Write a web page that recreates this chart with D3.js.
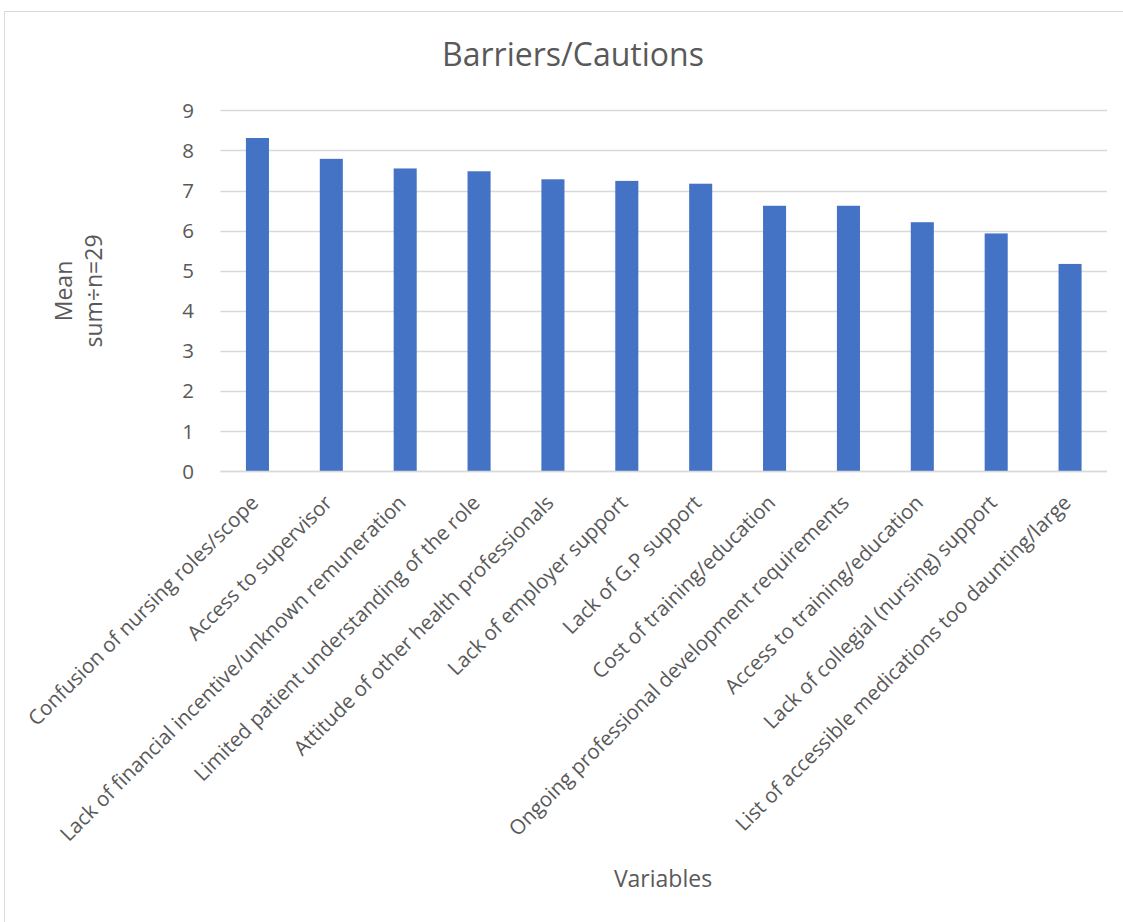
<!DOCTYPE html>
<html><head><meta charset="utf-8">
<script src="https://cdn.jsdelivr.net/npm/d3@7"></script>
<style>html,body{margin:0;padding:0;background:#fff;}svg{display:block;}text{font-family:"Open Sans",sans-serif;fill:#595959;}</style>
</head><body>
<svg id="chart" width="1123" height="922"></svg>
<script>
const categories = [
  "Confusion of nursing roles/scope",
  "Access to supervisor",
  "Lack of financial incentive/unknown remuneration",
  "Limited patient understanding of the role",
  "Attitude of other health professionals",
  "Lack of employer support",
  "Lack of G.P support",
  "Cost of training/education",
  "Ongoing professional development requirements",
  "Access to training/education",
  "Lack of collegial (nursing) support",
  "List of accessible medications too daunting/large"
];
const means = [8.31, 7.79, 7.55, 7.48, 7.28, 7.24, 7.17, 6.62, 6.62, 6.21, 5.93, 5.17];
const yTicks = [0,1,2,3,4,5,6,7,8,9];
const title = "Barriers/Cautions";
const xTitle = "Variables";
const yTitle = ["Mean", "sum÷n=29"];

const svg = d3.select("#chart");
svg.append("rect").attr("x",4.5).attr("y",11.5).attr("width",1140).attr("height",940)
  .attr("fill","none").attr("stroke","#d9d9d9").attr("stroke-width",1);

const plotL = 220.5, plotR = 1107, plotT = 110.3, plotB = 471.3;
const x = d3.scaleBand().domain(categories).range([plotL, plotR]).padding(0);
const y = d3.scaleLinear().domain([0,9]).range([plotB, plotT]);

svg.append("g").selectAll("line").data(yTicks).join("line")
  .attr("x1",plotL).attr("x2",plotR)
  .attr("y1",d=>Math.round(y(d))+0.5).attr("y2",d=>Math.round(y(d))+0.5)
  .attr("stroke","#d9d9d9").attr("stroke-width",1.3);

svg.append("g").selectAll("text").data(yTicks).join("text")
  .attr("x",194).attr("y",d=>y(d)).attr("dy","0.36em")
  .attr("text-anchor","end").style("font-size","20.5px").text(d=>d);

const bw = x.bandwidth()*0.312;
svg.append("g").selectAll("rect").data(categories).join("rect")
  .attr("x",(d)=>x(d)+x.bandwidth()/2-bw/2)
  .attr("width",bw)
  .attr("y",(d,i)=>y(means[i]))
  .attr("height",(d,i)=>y(0)-y(means[i]))
  .attr("fill","#4472C4");

svg.append("line").attr("x1",plotL).attr("x2",plotR).attr("y1",Math.round(y(0))+0.5).attr("y2",Math.round(y(0))+0.5)
  .attr("stroke","#d9d9d9").attr("stroke-width",1.5);

svg.append("g").selectAll("text").data(categories).join("text")
  .attr("transform",d=>`translate(${x(d)+x.bandwidth()/2-3},${499}) rotate(-45)`)
  .attr("text-anchor","end").attr("dy","0.35em")
  .style("font-size","20.5px").text(d=>d);

svg.append("text").attr("x",573).attr("y",66).attr("text-anchor","middle")
  .style("font-size","32px").text(title);

svg.append("text").attr("x",663).attr("y",887).attr("text-anchor","middle")
  .style("font-size","23px").text(xTitle);

const yt = svg.append("text").attr("transform","translate(0,291) rotate(-90)").attr("text-anchor","middle").style("font-size","23px");
yt.append("tspan").attr("x",0).attr("y",72).text(yTitle[0]);
yt.append("tspan").attr("x",0).attr("y",102).text(yTitle[1]);
</script>
</body></html>
